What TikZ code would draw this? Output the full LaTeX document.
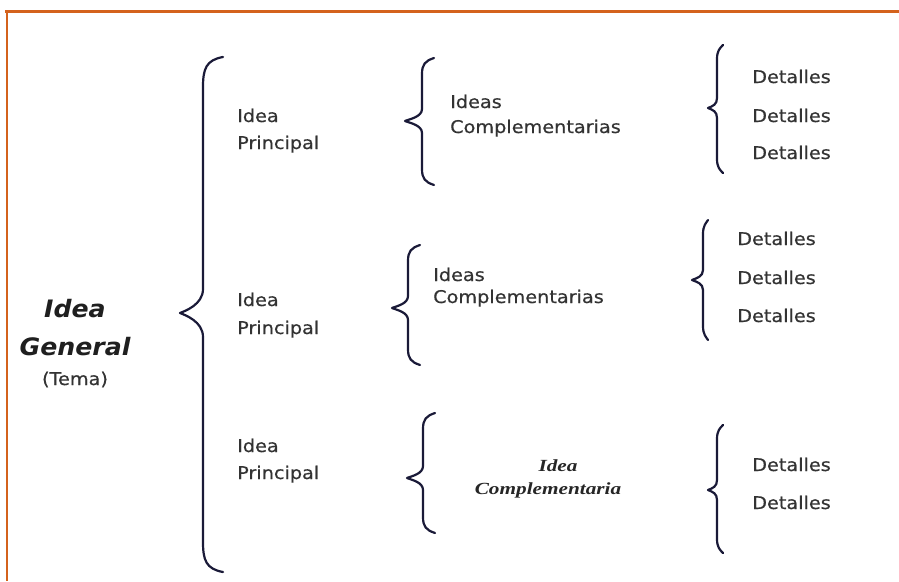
\documentclass[tikz,border=0pt]{standalone}
\usepackage{fontspec}
\newfontfamily\cf[FakeStretch=1.1,FakeBold=0.6]{DejaVu Sans}
\newfontfamily\gf[FakeStretch=1.05]{DejaVu Sans}
\newfontfamily\tf[FakeStretch=1.25]{Liberation Serif}
\definecolor{frameorange}{HTML}{D4621C}
\definecolor{bracecol}{HTML}{1A1A38}
\definecolor{txtcol}{HTML}{333333}
\newcommand\mybrace[8]{%
  \draw[bracestyle] (#1,#4) .. controls (#2+3,#4+3) and (#2,#4+#7*0.4) .. (#2,#4+#7)
    -- (#2,#5-#8) .. controls (#2,#5-#8*0.35) and (#3+5,#5-2) .. (#3,#5)
    .. controls (#3+5,#5+2) and (#2,#5+#8*0.35) .. (#2,#5+#8)
    -- (#2,#6-#7) .. controls (#2,#6-#7*0.4) and (#2+3,#6-3) .. (#1,#6);}
\tikzset{
  bracestyle/.style={draw=bracecol, line width=2.2pt, line cap=round, line join=round},
  txt/.style={anchor=base west, inner sep=0pt, text=txtcol, font=\cf\fontsize{17.5}{20}\selectfont},
  gen/.style={anchor=base, inner sep=0pt, text=black!88, font=\gf\bfseries\itshape\fontsize{24}{28}\selectfont},
  tema/.style={anchor=base, inner sep=0pt, text=txtcol, font=\cf\fontsize{17.5}{20}\selectfont},
  comp/.style={anchor=base, inner sep=0pt, text=black!85, font=\tf\bfseries\itshape\fontsize{17}{20}\selectfont}
}
\begin{document}
\begin{tikzpicture}[x=1pt,y=-1pt]
\useasboundingbox (0,0) rectangle (899,581);
\fill[white] (0,0) rectangle (899,581);
% frame
\draw[frameorange, line width=3pt] (5,11.5) -- (899,11.5);
\draw[frameorange, line width=2pt] (6.5,11) -- (6.5,581);
% general
\node[gen] (g1) at (75,317) {Idea};
\node[gen] (g2) at (75,355) {General};
\node[tema] (g3) at (75,385) {(Tema)};
% big brace
\mybrace{223}{203}{180}{57}{313}{572}{30}{24}
% principal ideas
\node[txt] (p1a) at (237,122) {Idea};
\node[txt] (p1b) at (237,149) {Principal};
\node[txt] (p2a) at (237,306) {Idea};
\node[txt] (p2b) at (237,334) {Principal};
\node[txt] (p3a) at (237,452) {Idea};
\node[txt] (p3b) at (237,479) {Principal};
% middle braces
\mybrace{434}{422}{405}{58}{121}{185}{16}{12}
\mybrace{420}{408}{392}{245}{308}{365}{16}{12}
\mybrace{435}{423}{407}{413}{478}{533}{16}{12}
% complementary ideas
\node[txt] (c1a) at (450,108) {Ideas};
\node[txt] (c1b) at (450,133) {Complementarias};
\node[txt] (c2a) at (433,281) {Ideas};
\node[txt] (c2b) at (433,303) {Complementarias};
\node[comp] (c3a) at (558,471) {Idea};
\node[comp] (c3b) at (548,494) {Complementaria};
% right braces
\mybrace{723}{717}{708}{45}{108}{173}{14}{10}
\mybrace{708}{703}{692}{220}{280}{340}{14}{10}
\mybrace{723}{717}{708}{425}{490}{553}{14}{10}
% details
\node[txt] (d1) at (752,83) {Detalles};
\node[txt] (d2) at (752,122) {Detalles};
\node[txt] (d3) at (752,159) {Detalles};
\node[txt] (d4) at (737,245) {Detalles};
\node[txt] (d5) at (737,284) {Detalles};
\node[txt] (d6) at (737,322) {Detalles};
\node[txt] (d7) at (752,471) {Detalles};
\node[txt] (d8) at (752,509) {Detalles};
\end{tikzpicture}
\end{document}
